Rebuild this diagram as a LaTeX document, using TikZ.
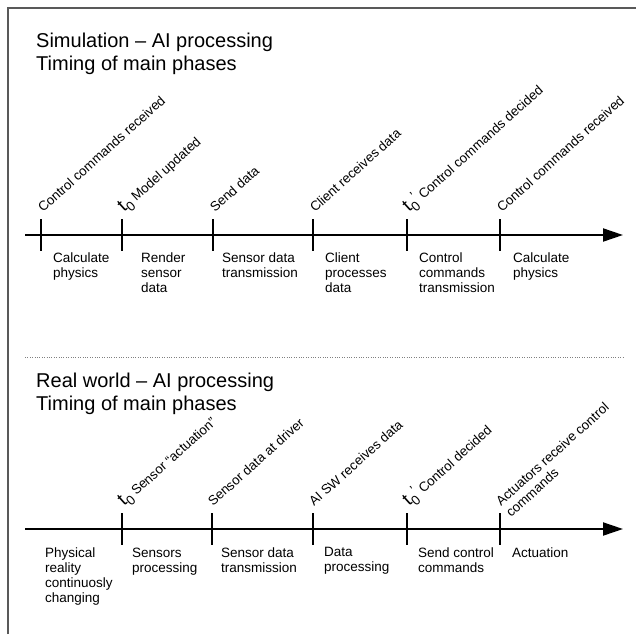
\documentclass[tikz,border=0pt]{standalone}
\usepackage{fontspec}
\setmainfont{Liberation Sans}
\usetikzlibrary{arrows.meta}
\newcommand{\tnull}{{\fontsize{19}{19}\selectfont t}\raisebox{-0.35em}{0}}
\begin{document}
\begin{tikzpicture}[x=1pt,y=-1pt,font=\fontsize{13.5}{15}\selectfont,
  title/.style={anchor=north west,inner sep=0pt,align=left,font=\fontsize{20}{23}\selectfont},
  phase/.style={anchor=north west,inner sep=0pt,align=left},
  event/.style={anchor=base west,rotate=42,inner sep=0pt,align=left,font=\fontsize{13.3}{15}\selectfont},
  timeline/.style={line width=2pt,-{Triangle[length=20pt,width=13pt]}},
  tick/.style={line width=2pt}]
\useasboundingbox (0,0) rectangle (636,634);
\draw[black!65,line width=1.2pt] (8,634) -- (8,8) -- (636,8);

\node[title] (simtitle) at (36,32.5) {Simulation -- AI processing\\Timing of main phases};

\coordinate (simstart) at (25,235);
\coordinate (simend) at (623,235);
\draw[timeline] (simstart) -- (simend);

\draw[tick] (41,219) -- (41,251);
\draw[tick] (122,219) -- (122,251);
\draw[tick] (213,219) -- (213,251);
\draw[tick] (313,219) -- (313,251);
\draw[tick] (407,219) -- (407,251);
\draw[tick] (500,219) -- (500,251);

\node[event] (simev1) at (43,213) {Control commands received};
\node[event] (simev2) at (124,213) {\tnull\ Model updated};
\node[event] (simev3) at (215,213) {Send data};
\node[event] (simev4) at (315,213) {Client receives data};
\node[event] (simev5) at (409,213) {\tnull\raisebox{0.4em}{’} Control commands decided};
\node[event] (simev6) at (502,213) {Control commands received};

\node[phase] (simph1) at (53,253) {Calculate\\physics};
\node[phase] (simph2) at (141,253) {Render\\sensor\\data};
\node[phase] (simph3) at (222,253) {Sensor data\\transmission};
\node[phase] (simph4) at (325,253) {Client\\processes\\data};
\node[phase] (simph5) at (419,253) {Control\\commands\\transmission};
\node[phase] (simph6) at (513,253) {Calculate\\physics};

\coordinate (sepstart) at (25,357);
\coordinate (sepend) at (624,357);
\draw[black!50,dotted] (sepstart) -- (sepend);

\node[title] (realtitle) at (36,372.5) {Real world -- AI processing\\Timing of main phases};

\coordinate (realstart) at (25,529);
\coordinate (realend) at (623,529);
\draw[timeline] (realstart) -- (realend);

\draw[tick] (122,513) -- (122,545);
\draw[tick] (212,513) -- (212,545);
\draw[tick] (313,513) -- (313,545);
\draw[tick] (407,513) -- (407,545);
\draw[tick] (500,513) -- (500,545);

\node[event] (realev1) at (124,507) {\tnull\ Sensor ``actuation''};
\node[event] (realev2) at (213,507) {Sensor data at driver};
\node[event] (realev3) at (314,507) {AI SW receives data};
\node[event] (realev4) at (409,507) {\tnull\raisebox{0.4em}{’} Control decided};
\node[event] (realev5) at (511,518) {Actuators receive control\\commands};

\node[phase] (realph1) at (45,547.5) {Physical\\reality\\continuosly\\changing};
\node[phase] (realph2) at (132,547.5) {Sensors\\processing};
\node[phase] (realph3) at (221,547.5) {Sensor data\\transmission};
\node[phase] (realph4) at (324,547.5) {Data\\processing};
\node[phase] (realph5) at (418,547.5) {Send control\\commands};
\node[phase] (realph6) at (512,547.5) {Actuation};
\end{tikzpicture}
\end{document}
